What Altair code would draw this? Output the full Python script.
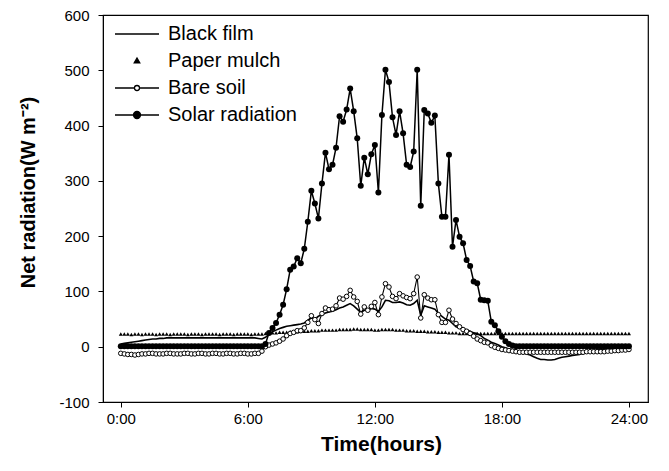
import altair as alt
import pandas as pd

# ---------------- data (10-minute readings, 0:00 .. 24:00) ----------------
series_names = ["Black film", "Paper mulch", "Bare soil", "Solar radiation"]

black_film = [
    5, 6, 7, 8, 9, 10, 11, 12, 13, 14, 14, 15, 15, 16, 16, 16, 16, 16, 16, 16,    # 0:00-3:10
    16, 16, 16, 16, 16, 16, 16, 16, 16, 16, 16, 16, 16, 16, 16, 16, 16, 16, 16, 15,  # 3:20-6:30
    14, 17, 22, 27, 30, 33, 35, 37, 38, 39, 40, 41, 43, 48,                        # 6:40-8:50
    52, 50, 55, 58, 61, 63, 64, 67, 70, 72, 75, 78,                                # 9:00-10:50
    74, 68, 62, 66, 66, 69, 68, 64, 72, 84, 83, 80,                                # 11:00-12:50
    80, 81, 79, 76, 75, 78, 84, 57, 74, 72, 70, 68,                                # 13:00-14:50
    60, 55, 50, 48, 42, 36, 34, 33, 30, 28, 25, 24,                                # 15:00-16:50
    20, 15, 12, 8, 6, 3, 0, -2, -4, -5, -7, -9,                                    # 17:00-18:50
    -11, -13, -15, -18, -21, -23, -23, -24, -24, -23, -21, -19,                    # 19:00-20:50
    -18, -17, -16, -15, -14, -12, -10, -8, -7, -6, -5, -4,                         # 21:00-22:50
    -3, -2, -1, 0, 0, 0, 0,                                                        # 23:00-24:00
]

paper_mulch = [
    23, 23, 23, 22, 23, 23, 22, 23, 23, 23, 22, 23, 23, 23, 22, 23, 23, 23, 23, 22,
    23, 23, 23, 22, 23, 23, 23, 23, 22, 23, 23, 23, 22, 23, 23, 23, 23, 22, 23, 23,
    23, 24, 25, 25, 25, 26, 26, 26, 27, 27, 27, 28, 28, 28,
    29, 29, 29, 30, 30, 30, 30, 30, 31, 31, 31, 31,
    32, 32, 31, 31, 31, 31, 30, 30, 31, 31, 31, 31,
    30, 30, 30, 29, 29, 29, 28, 28, 28, 27, 27, 27,
    26, 26, 26, 25, 25, 25, 24, 24, 24, 24, 24, 24,
    24, 24, 24, 24, 24, 24, 24, 24, 24, 24, 24, 24,
    24, 24, 24, 24, 24, 24, 24, 24, 24, 24, 24, 24,
    24, 24, 24, 24, 24, 24, 24, 24, 24, 24, 24, 24,
    24, 24, 24, 24, 24, 24, 24,
]

bare_soil = [
    -12, -13, -14, -14, -15, -14, -13, -13, -12, -12, -13, -13, -13, -12, -12, -13, -13, -13, -12, -12,
    -13, -13, -12, -12, -13, -13, -12, -12, -13, -13, -12, -12, -13, -13, -12, -12, -13, -13, -12, -12,
    -8, 0, 3, 5, 7, 10, 14, 20, 24, 26, 29, 29, 34, 44,
    56, 49, 42, 60, 70, 67, 68, 74, 88, 86, 91, 102,
    90, 82, 59, 72, 66, 73, 80, 58, 90, 114, 108, 91,
    87, 96, 92, 89, 87, 96, 126, 52, 94, 88, 85, 85,
    58, 44, 44, 66, 50, 42, 36, 31, 28, 24, 19, 14,
    11, 8, 7, 2, -1, -3, -5, -6, -7, -8, -9, -10,
    -10, -10, -10, -10, -10, -10, -10, -10, -10, -10, -10, -10,
    -10, -10, -10, -10, -10, -10, -9, -9, -9, -9, -9, -9,
    -8, -8, -7, -7, -6, -6, -5,
]

solar = [
    1, 1, 1, 1, 1, 1, 1, 1, 1, 1, 1, 1, 1, 1, 1, 1, 1, 1, 1, 1,
    1, 1, 1, 1, 1, 1, 1, 1, 1, 1, 1, 1, 1, 1, 1, 1, 1, 1, 1, 1,
    1, 5, 25, 34, 43, 58, 76, 104, 139, 145, 160, 151, 177, 226,
    282, 259, 232, 295, 351, 321, 329, 360, 417, 407, 429, 467,
    426, 377, 291, 342, 312, 348, 365, 279, 419, 501, 479, 415,
    383, 426, 386, 329, 325, 353, 501, 255, 428, 422, 405, 418,
    295, 235, 235, 347, 181, 229, 199, 187, 157, 146, 118, 115,
    85, 84, 83, 45, 39, 28, 18, 10, 5, 2, 1, 1,
    1, 1, 1, 1, 1, 1, 1, 1, 1, 1, 1, 1,
    1, 1, 1, 1, 1, 1, 1, 1, 1, 1, 1, 1,
    1, 1, 1, 1, 1, 1, 1,
]

hours = [i / 6 for i in range(len(solar))]

y_ticks = [-100, 0, 100, 200, 300, 400, 500, 600]
x_ticks = [0, 6, 12, 18, 24]

# legend glyphs (1 unit = 5 px with symbolSize 100) and colours
legend_paths = [
    "M-4.4,0H4.4",
    "M0,-0.6L0.55,0.35L-0.55,0.35Z",
    "M-4.4,0H-0.5M0.5,0H4.4M-0.5,0A0.5,0.5 0 1,1 0.5,0A0.5,0.5 0 1,1 -0.5,0Z",
    "M-4.4,0H-0.7M0.7,0H4.4M-0.7,0A0.7,0.7 0 1,1 0.7,0A0.7,0.7 0 1,1 -0.7,0Z",
]
legend_fills = ["black", "black", "white", "black"]
legend_strokes = ["black", "black", "black", "black"]

# ---------------- table ----------------
rows = []
for name, vals in zip(series_names, [black_film, paper_mulch, bare_soil, solar]):
    for h, v in zip(hours, vals):
        rows.append({"series": name, "hour": h, "value": v})
df = pd.DataFrame(rows)

FONT = "Liberation Sans"

x_enc = alt.X(
    "hour:Q",
    scale=alt.Scale(domain=[-0.84, 24.9], nice=False, zero=False),
    axis=alt.Axis(
        values=x_ticks,
        labelExpr="datum.value + ':00'",
        title="Time(hours)",
        grid=False,
        titleX=278,
        titleFontSize=21,
    ),
)
y_enc = alt.Y(
    "value:Q",
    scale=alt.Scale(domain=[-100, 600], nice=False),
    axis=alt.Axis(
        values=y_ticks,
        labelExpr="datum.value < 0 ? '-' + abs(datum.value) : '' + datum.value",
        title="Net radiation(W m⁻²)",
        grid=False,
        titleY=177,
        titleFontSize=20,
    ),
)

base = alt.Chart(df).encode(x=x_enc, y=y_enc)

black_line = base.transform_filter(alt.datum.series == "Black film").mark_line(
    color="black", strokeWidth=1.6
)
paper_pts = base.transform_filter(alt.datum.series == "Paper mulch").mark_point(
    shape="triangle-up", filled=True, color="black", size=16, opacity=1
)
bare_line = base.transform_filter(alt.datum.series == "Bare soil").mark_line(
    color="black", strokeWidth=1.1
)
bare_pts = base.transform_filter(alt.datum.series == "Bare soil").mark_point(
    shape="circle", filled=True, fill="white", stroke="black", strokeWidth=1, size=21, opacity=1
)
solar_line = base.transform_filter(alt.datum.series == "Solar radiation").mark_line(
    color="black", strokeWidth=1.5
)
solar_pts = base.transform_filter(alt.datum.series == "Solar radiation").mark_circle(
    color="black", size=36, opacity=1
)


def make_legend():
    return alt.Legend(
        title=None,
        orient="none",
        legendX=24,
        legendY=9,
        symbolSize=100,
        symbolOpacity=1,
        symbolStrokeWidth=1.3,
        labelFontSize=20,
        labelFont=FONT,
        labelColor="black",
        labelOffset=21,
        rowPadding=7,
    )


# legend carrier: draws no marks itself (empty after filter), only supplies the legend
legend_layer = (
    base.transform_filter("datum.value > 100000")
    .mark_point(strokeWidth=1.3, filled=False)
    .encode(
        shape=alt.Shape(
            "series:N",
            scale=alt.Scale(domain=series_names, range=legend_paths),
            sort=series_names,
            legend=make_legend(),
        ),
        fill=alt.Fill(
            "series:N",
            scale=alt.Scale(domain=series_names, range=legend_fills),
            sort=series_names,
            legend=make_legend(),
        ),
        stroke=alt.Stroke(
            "series:N",
            scale=alt.Scale(domain=series_names, range=legend_strokes),
            sort=series_names,
            legend=make_legend(),
        ),
    )
)

chart = (
    alt.layer(legend_layer, black_line, paper_pts, bare_line, bare_pts, solar_line, solar_pts)
    .properties(
        width=545,
        height=387,
        autosize=alt.AutoSizeParams(type="none"),
        padding={"left": 95, "top": 7, "right": 10, "bottom": 55},
    )
    .configure_view(stroke="black", strokeWidth=1.2)
    .configure_axis(
        domainColor="black",
        tickColor="black",
        tickSize=5,
        labelFont=FONT,
        labelFontSize=15,
        labelColor="black",
        titleFont=FONT,
        titleFontWeight="bold",
        titleColor="black",
    )
    .configure_axisY(labelPadding=9, titlePadding=20)
    .configure_axisX(labelPadding=4, titlePadding=7)
)

chart.save("out.html", embed_options={"renderer": "svg", "actions": False})
